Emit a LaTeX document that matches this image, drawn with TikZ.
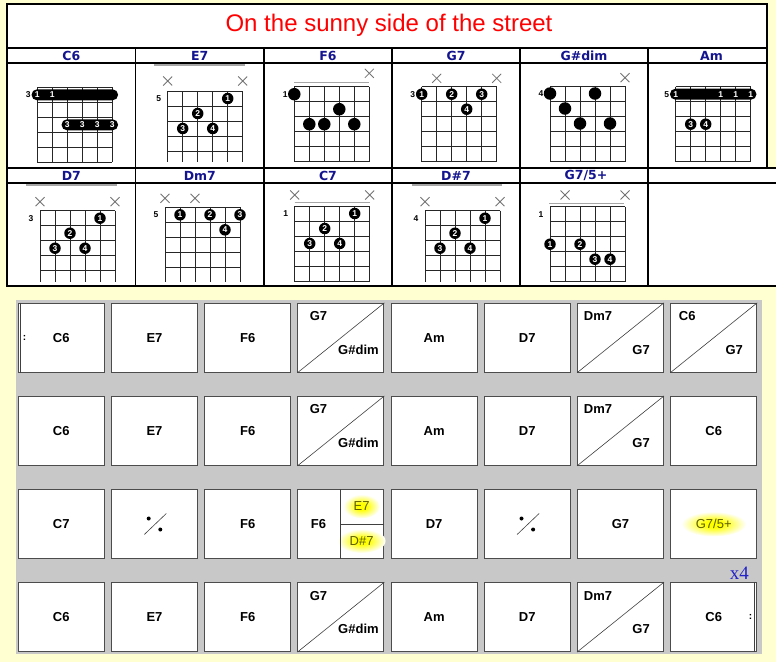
\documentclass[tikz,border=0pt]{standalone}
\usepackage{fontspec}
\setmainfont{Liberation Sans}
\newfontfamily\headfont{DejaVu Sans}
\newfontfamily\serifface{Liberation Serif}
\usepackage{xcolor}
\usetikzlibrary{shapes.geometric}
\definecolor{pagebg}{HTML}{FFFFD2}
\definecolor{panelgray}{HTML}{C8C8C8}
\definecolor{chordblue}{HTML}{14148F}
\definecolor{titlered}{HTML}{FF0000}
\definecolor{glowyellow}{HTML}{FFFF00}
\definecolor{glowmid}{HTML}{FFFF80}
\definecolor{glowtext}{HTML}{5E5E00}
\definecolor{repeatblue}{HTML}{2222C8}
\pgfdeclareradialshading{textglow}{\pgfpoint{0bp}{0bp}}{%
  color(0bp)=(glowyellow); color(7bp)=(glowyellow);
  color(16bp)=(glowmid); color(25bp)=(white); color(50bp)=(white)}

% chord diagram helpers: grid origin (top string-1 corner) in \gx, \gy
\newcommand{\fretgrid}[2]{%
  \foreach \s in {0,...,5}
    \draw[gridline] ({\gx+15*\s},\gy) -- ({\gx+15*\s},#1);
  \foreach \f in {1,...,#2}
    \draw[gridline] (\gx,{\gy+15*(\f-1)}) -- ({\gx+75},{\gy+15*(\f-1)});
}
\newcommand{\nutline}[3]{\draw[nutline] (#1,#3) -- (#2,#3);}
\newcommand{\mute}[2]{%
  \draw[mutemark] ({\gx+15*#1-4.5},{#2-4.5}) -- ++(9,9)
                  ({\gx+15*#1-4.5},{#2+4.5}) -- ++(9,-9);}
\newcommand{\fdot}[4]{\node[fingerdot] (#1) at ({\gx+15*#2},{\gy+15*#3-7.5}) {#4};}
\newcommand{\bdot}[3]{\node[bigdot] (#1) at ({\gx+15*#2},{\gy+15*#3-7.5}) {};}
\newcommand{\barre}[3]{\fill[barrefill] ({\gx+15*#1-5.8},{\gy+15*#3-13})
  rectangle ({\gx+15*#2+5.8},{\gy+15*#3-2});}
\newcommand{\blbl}[4]{\node[barrelbl] (#1) at ({\gx+15*#2},{\gy+15*#3-7.5}) {#4};}
\newcommand{\fretno}[2]{\node[fretlbl] (#1) at ({\gx-9},{\gy+7.5}) {#2};}

\begin{document}
\begin{tikzpicture}[x=1pt, y=-1pt,
  tabline/.style={line width=1.3pt, black},
  chordname/.style={inner sep=0pt, text=chordblue,
                    font=\headfont\bfseries\fontsize{12.5}{14}\selectfont},
  gridline/.style={line width=0.95pt, black!85},
  nutline/.style={line width=1.5pt, black!35},
  mutemark/.style={line width=0.8pt, black!55},
  fingerdot/.style={circle, fill=black, text=white, minimum size=11.5pt,
                    inner sep=0pt, font=\bfseries\fontsize{8.5}{9}\selectfont},
  bigdot/.style={circle, fill=black, minimum size=12.5pt, inner sep=0pt},
  barrefill/.style={fill=black, rounded corners=5.5pt},
  barrelbl/.style={inner sep=0pt, text=white,
                   font=\bfseries\fontsize{8.5}{9}\selectfont},
  fretlbl/.style={inner sep=0pt, font=\bfseries\fontsize{8.5}{9}\selectfont},
  cell/.style={draw=black!70, line width=0.9pt, fill=white,
               minimum width=86pt, minimum height=69pt, inner sep=0pt,
               font=\bfseries\fontsize{13}{15}\selectfont},
  sublbl/.style={inner sep=0pt, font=\bfseries\fontsize{13}{15}\selectfont},
  slash/.style={line width=0.6pt, black!75},
  divline/.style={line width=0.9pt, black!75},
  glowlbl/.style={ellipse, inner xsep=5pt, inner ysep=4pt,
                  shade, shading=textglow, text=glowtext,
                  font=\fontsize{13}{15}\selectfont},
  repdots/.style={inner sep=0pt, font=\bfseries\fontsize{10}{12}\selectfont}
]

% === Page ===
\useasboundingbox (0,0) rectangle (776,662);
\fill[pagebg] (0,0) rectangle (776,662);

% === Title and chord table ===
\fill[white] (7,4) rectangle (767,168);
\fill[white] (7,168) rectangle (776,286);
\node[text=titlered, font=\fontsize{24}{28}\selectfont, inner sep=0pt]
  (title) at (389,25) {On the sunny side of the street};

\draw[tabline] (7,4) rectangle (767,168);
\draw[tabline] (7,48) -- (767,48);
\draw[tabline] (7,63) -- (767,63);
\draw[tabline] (7,168) -- (776,168);
\draw[tabline] (7,183) -- (776,183);
\draw[tabline] (7,168) -- (7,286) -- (776,286);
\foreach \cx in {135.7,264,392,520,648}
  \draw[tabline] (\cx,48) -- (\cx,286);

% chord names
\node[chordname] (h-C6)    at (71.3,55.5)  {C6};
\node[chordname] (h-E7)    at (199.8,55.5) {E7};
\node[chordname] (h-F6)    at (328,55.5)   {F6};
\node[chordname] (h-G7)    at (456,55.5)   {G7};
\node[chordname] (h-Gsdim) at (584,55.5)   {G\#dim};
\node[chordname] (h-Am)    at (711.5,55.5) {Am};
\node[chordname] (h-D7)    at (71.3,175.5) {D7};
\node[chordname] (h-Dm7)   at (199.8,175.5) {Dm7};
\node[chordname] (h-C7)    at (328,175.5)  {C7};
\node[chordname] (h-Ds7)   at (456,175.5)  {D\#7};
\node[chordname] (h-G7aug) at (586,175.5)  {G7/5+};

% --- C6 ---
\def\gx{37.3}\def\gy{87.3}
\fretgrid{162}{6}
\barre{0}{5}{1}
\blbl{C6-b1}{0}{1}{1} \blbl{C6-b2}{1}{1}{1}
\barre{2}{5}{3}
\blbl{C6-b3}{2}{3}{3} \blbl{C6-b4}{3}{3}{3}
\blbl{C6-b5}{4}{3}{3} \blbl{C6-b6}{5}{3}{3}
\fretno{C6-fr}{3}

% --- E7 ---
\def\gx{167.7}\def\gy{91}
\nutline{154}{245}{65}
\mute{0}{81} \mute{5}{81}
\fretgrid{162}{5}
\fdot{E7-f1}{4}{1}{1} \fdot{E7-f2}{2}{2}{2}
\fdot{E7-f3}{1}{3}{3} \fdot{E7-f4}{3}{3}{4}
\fretno{E7-fr}{5}

% --- F6 ---
\def\gx{294.3}\def\gy{86.7}
\nutline{294.3}{369.3}{82.7}
\mute{5}{73.3}
\fretgrid{162}{6}
\bdot{F6-d1}{0}{1} \bdot{F6-d2}{3}{2}
\bdot{F6-d3}{1}{3} \bdot{F6-d4}{2}{3} \bdot{F6-d5}{4}{3}
\fretno{F6-fr}{1}

% --- G7 ---
\def\gx{421.7}\def\gy{86.7}
\mute{1}{78.3} \mute{5}{78.3}
\fretgrid{162}{6}
\fdot{G7-f1}{0}{1}{1} \fdot{G7-f2}{2}{1}{2}
\fdot{G7-f3}{4}{1}{3} \fdot{G7-f4}{3}{2}{4}
\fretno{G7-fr}{3}

% --- G#dim ---
\def\gx{550}\def\gy{86}
\mute{5}{77.7}
\fretgrid{162}{6}
\bdot{Gsdim-d1}{0}{1} \bdot{Gsdim-d2}{3}{1} \bdot{Gsdim-d3}{1}{2}
\bdot{Gsdim-d4}{2}{3} \bdot{Gsdim-d5}{4}{3}
\fretno{Gsdim-fr}{4}

% --- Am ---
\def\gx{675.7}\def\gy{86.7}
\fretgrid{162}{6}
\barre{0}{5}{1}
\blbl{Am-b1}{0}{1}{1} \blbl{Am-b2}{3}{1}{1}
\blbl{Am-b3}{4}{1}{1} \blbl{Am-b4}{5}{1}{1}
\fdot{Am-f3}{1}{3}{3} \fdot{Am-f4}{2}{3}{4}
\fretno{Am-fr}{5}

% --- D7 ---
\def\gx{40}\def\gy{210.7}
\nutline{26}{116.7}{185}
\mute{0}{201.7} \mute{5}{201.7}
\fretgrid{282}{5}
\fdot{D7-f1}{4}{1}{1} \fdot{D7-f2}{2}{2}{2}
\fdot{D7-f3}{1}{3}{3} \fdot{D7-f4}{3}{3}{4}
\fretno{D7-fr}{3}

% --- Dm7 ---
\def\gx{165}\def\gy{207.3}
\mute{0}{198.3} \mute{2}{198.3}
\fretgrid{282}{5}
\fdot{Dm7-f1}{1}{1}{1} \fdot{Dm7-f2}{3}{1}{2}
\fdot{Dm7-f3}{5}{1}{3} \fdot{Dm7-f4}{4}{2}{4}
\fretno{Dm7-fr}{5}

% --- C7 ---
\def\gx{294.7}\def\gy{206}
\nutline{294.7}{369.7}{202.3}
\mute{0}{195} \mute{5}{195}
\fretgrid{282}{6}
\fdot{C7-f1}{4}{1}{1} \fdot{C7-f2}{2}{2}{2}
\fdot{C7-f3}{1}{3}{3} \fdot{C7-f4}{3}{3}{4}
\fretno{C7-fr}{1}

% --- D#7 ---
\def\gx{425}\def\gy{210.7}
\nutline{411.7}{501.7}{185}
\mute{0}{201.7} \mute{5}{201.7}
\fretgrid{282}{5}
\fdot{Ds7-f1}{4}{1}{1} \fdot{Ds7-f2}{2}{2}{2}
\fdot{Ds7-f3}{1}{3}{3} \fdot{Ds7-f4}{3}{3}{4}
\fretno{Ds7-fr}{4}

% --- G7/5+ ---
\def\gx{550}\def\gy{206.7}
\nutline{549.3}{624.3}{203.3}
\mute{1}{195} \mute{5}{195}
\fretgrid{282}{6}
\fdot{G7aug-f1}{0}{3}{1} \fdot{G7aug-f2}{2}{3}{2}
\fdot{G7aug-f3}{3}{4}{3} \fdot{G7aug-f4}{4}{4}{4}
\fretno{G7aug-fr}{1}

% === Chord chart ===
\fill[panelgray] (16,300) rectangle (762,654);

% row 1
\node[cell] (r1c1) at (61.3,337.8)  {C6};
\node[cell] (r1c2) at (154.5,337.8) {E7};
\node[cell] (r1c3) at (247.7,337.8) {F6};
\node[cell] (r1c4) at (340.9,337.8) {};
\node[cell] (r1c5) at (434.1,337.8) {Am};
\node[cell] (r1c6) at (527.3,337.8) {D7};
\node[cell] (r1c7) at (620.5,337.8) {};
\node[cell] (r1c8) at (713.7,337.8) {};
\draw[slash] (r1c4.south west) -- (r1c4.north east);
\node[sublbl] (r1c4-a) at ([shift={(21,13.4)}]r1c4.north west) {G7};
\node[sublbl] (r1c4-b) at ([shift={(61,46.7)}]r1c4.north west) {G\#dim};
\draw[slash] (r1c7.south west) -- (r1c7.north east);
\node[sublbl] (r1c7-a) at ([shift={(21,13.4)}]r1c7.north west) {Dm7};
\node[sublbl] (r1c7-b) at ([shift={(64,46.7)}]r1c7.north west) {G7};
\draw[slash] (r1c8.south west) -- (r1c8.north east);
\node[sublbl] (r1c8-a) at ([shift={(17,13.4)}]r1c8.north west) {C6};
\node[sublbl] (r1c8-b) at ([shift={(64,46.7)}]r1c8.north west) {G7};
% begin repeat
\draw[divline] ([xshift=2.4pt]r1c1.north west) -- ([xshift=2.4pt]r1c1.south west);
\node[repdots] (r1c1-rep) at ([xshift=6.7pt]r1c1.west) {:};

% row 2
\node[cell] (r2c1) at (61.3,430.9)  {C6};
\node[cell] (r2c2) at (154.5,430.9) {E7};
\node[cell] (r2c3) at (247.7,430.9) {F6};
\node[cell] (r2c4) at (340.9,430.9) {};
\node[cell] (r2c5) at (434.1,430.9) {Am};
\node[cell] (r2c6) at (527.3,430.9) {D7};
\node[cell] (r2c7) at (620.5,430.9) {};
\node[cell] (r2c8) at (713.7,430.9) {C6};
\draw[slash] (r2c4.south west) -- (r2c4.north east);
\node[sublbl] (r2c4-a) at ([shift={(21,13.4)}]r2c4.north west) {G7};
\node[sublbl] (r2c4-b) at ([shift={(61,46.7)}]r2c4.north west) {G\#dim};
\draw[slash] (r2c7.south west) -- (r2c7.north east);
\node[sublbl] (r2c7-a) at ([shift={(21,13.4)}]r2c7.north west) {Dm7};
\node[sublbl] (r2c7-b) at ([shift={(64,46.7)}]r2c7.north west) {G7};

% row 3
\node[cell] (r3c1) at (61.3,524)  {C7};
\node[cell] (r3c2) at (154.5,524) {};
\node[cell] (r3c3) at (247.7,524) {F6};
\node[cell] (r3c4) at (340.9,524) {};
\node[cell] (r3c5) at (434.1,524) {D7};
\node[cell] (r3c6) at (527.3,524) {};
\node[cell] (r3c7) at (620.5,524) {G7};
\node[cell] (r3c8) at (713.7,524) {};
% simile signs
\draw[slash] ([shift={(-10.2,10.5)}]r3c2.center) -- ([shift={(11.8,-10.5)}]r3c2.center);
\fill ([shift={(-5.8,-5.5)}]r3c2.center) circle (2pt)
      ([shift={(5.8,5.5)}]r3c2.center) circle (2pt);
\draw[slash] ([shift={(-10.2,10.5)}]r3c6.center) -- ([shift={(11.8,-10.5)}]r3c6.center);
\fill ([shift={(-5.8,-5.5)}]r3c6.center) circle (2pt)
      ([shift={(5.8,5.5)}]r3c6.center) circle (2pt);
% split bar F6 | E7 / D#7
\node[sublbl] (r3c4-a) at ([xshift=21pt]r3c4.west) {F6};
\node[glowlbl] (r3c4-b) at ([shift={(64.2,17.3)}]r3c4.north west) {E7};
\node[glowlbl] (r3c4-c) at ([shift={(64.2,51.9)}]r3c4.north west) {D\#7};
\coordinate (r3c4-mid) at ([xshift=43.4pt]r3c4.north west);
\draw[divline] (r3c4-mid) -- (r3c4-mid |- r3c4.south);
\draw[divline] (r3c4-mid |- r3c4.center) -- (r3c4.east);
\node[glowlbl] (r3c8-a) at (r3c8.center) {G7/5+};

% row 4
\node[cell] (r4c1) at (61.3,617.1)  {C6};
\node[cell] (r4c2) at (154.5,617.1) {E7};
\node[cell] (r4c3) at (247.7,617.1) {F6};
\node[cell] (r4c4) at (340.9,617.1) {};
\node[cell] (r4c5) at (434.1,617.1) {Am};
\node[cell] (r4c6) at (527.3,617.1) {D7};
\node[cell] (r4c7) at (620.5,617.1) {};
\node[cell] (r4c8) at (713.7,617.1) {C6};
\draw[slash] (r4c4.south west) -- (r4c4.north east);
\node[sublbl] (r4c4-a) at ([shift={(21,13.4)}]r4c4.north west) {G7};
\node[sublbl] (r4c4-b) at ([shift={(61,46.7)}]r4c4.north west) {G\#dim};
\draw[slash] (r4c7.south west) -- (r4c7.north east);
\node[sublbl] (r4c7-a) at ([shift={(21,13.4)}]r4c7.north west) {Dm7};
\node[sublbl] (r4c7-b) at ([shift={(64,46.7)}]r4c7.north west) {G7};
% end repeat
\draw[divline] ([xshift=-2.4pt]r4c8.north east) -- ([xshift=-2.4pt]r4c8.south east);
\node[repdots] (r4c8-rep) at ([xshift=-6.7pt]r4c8.east) {:};

\node[text=repeatblue, font=\serifface\fontsize{19}{22}\selectfont, inner sep=0pt]
  (times) at (739.3,573.3) {x4};

\end{tikzpicture}
\end{document}
